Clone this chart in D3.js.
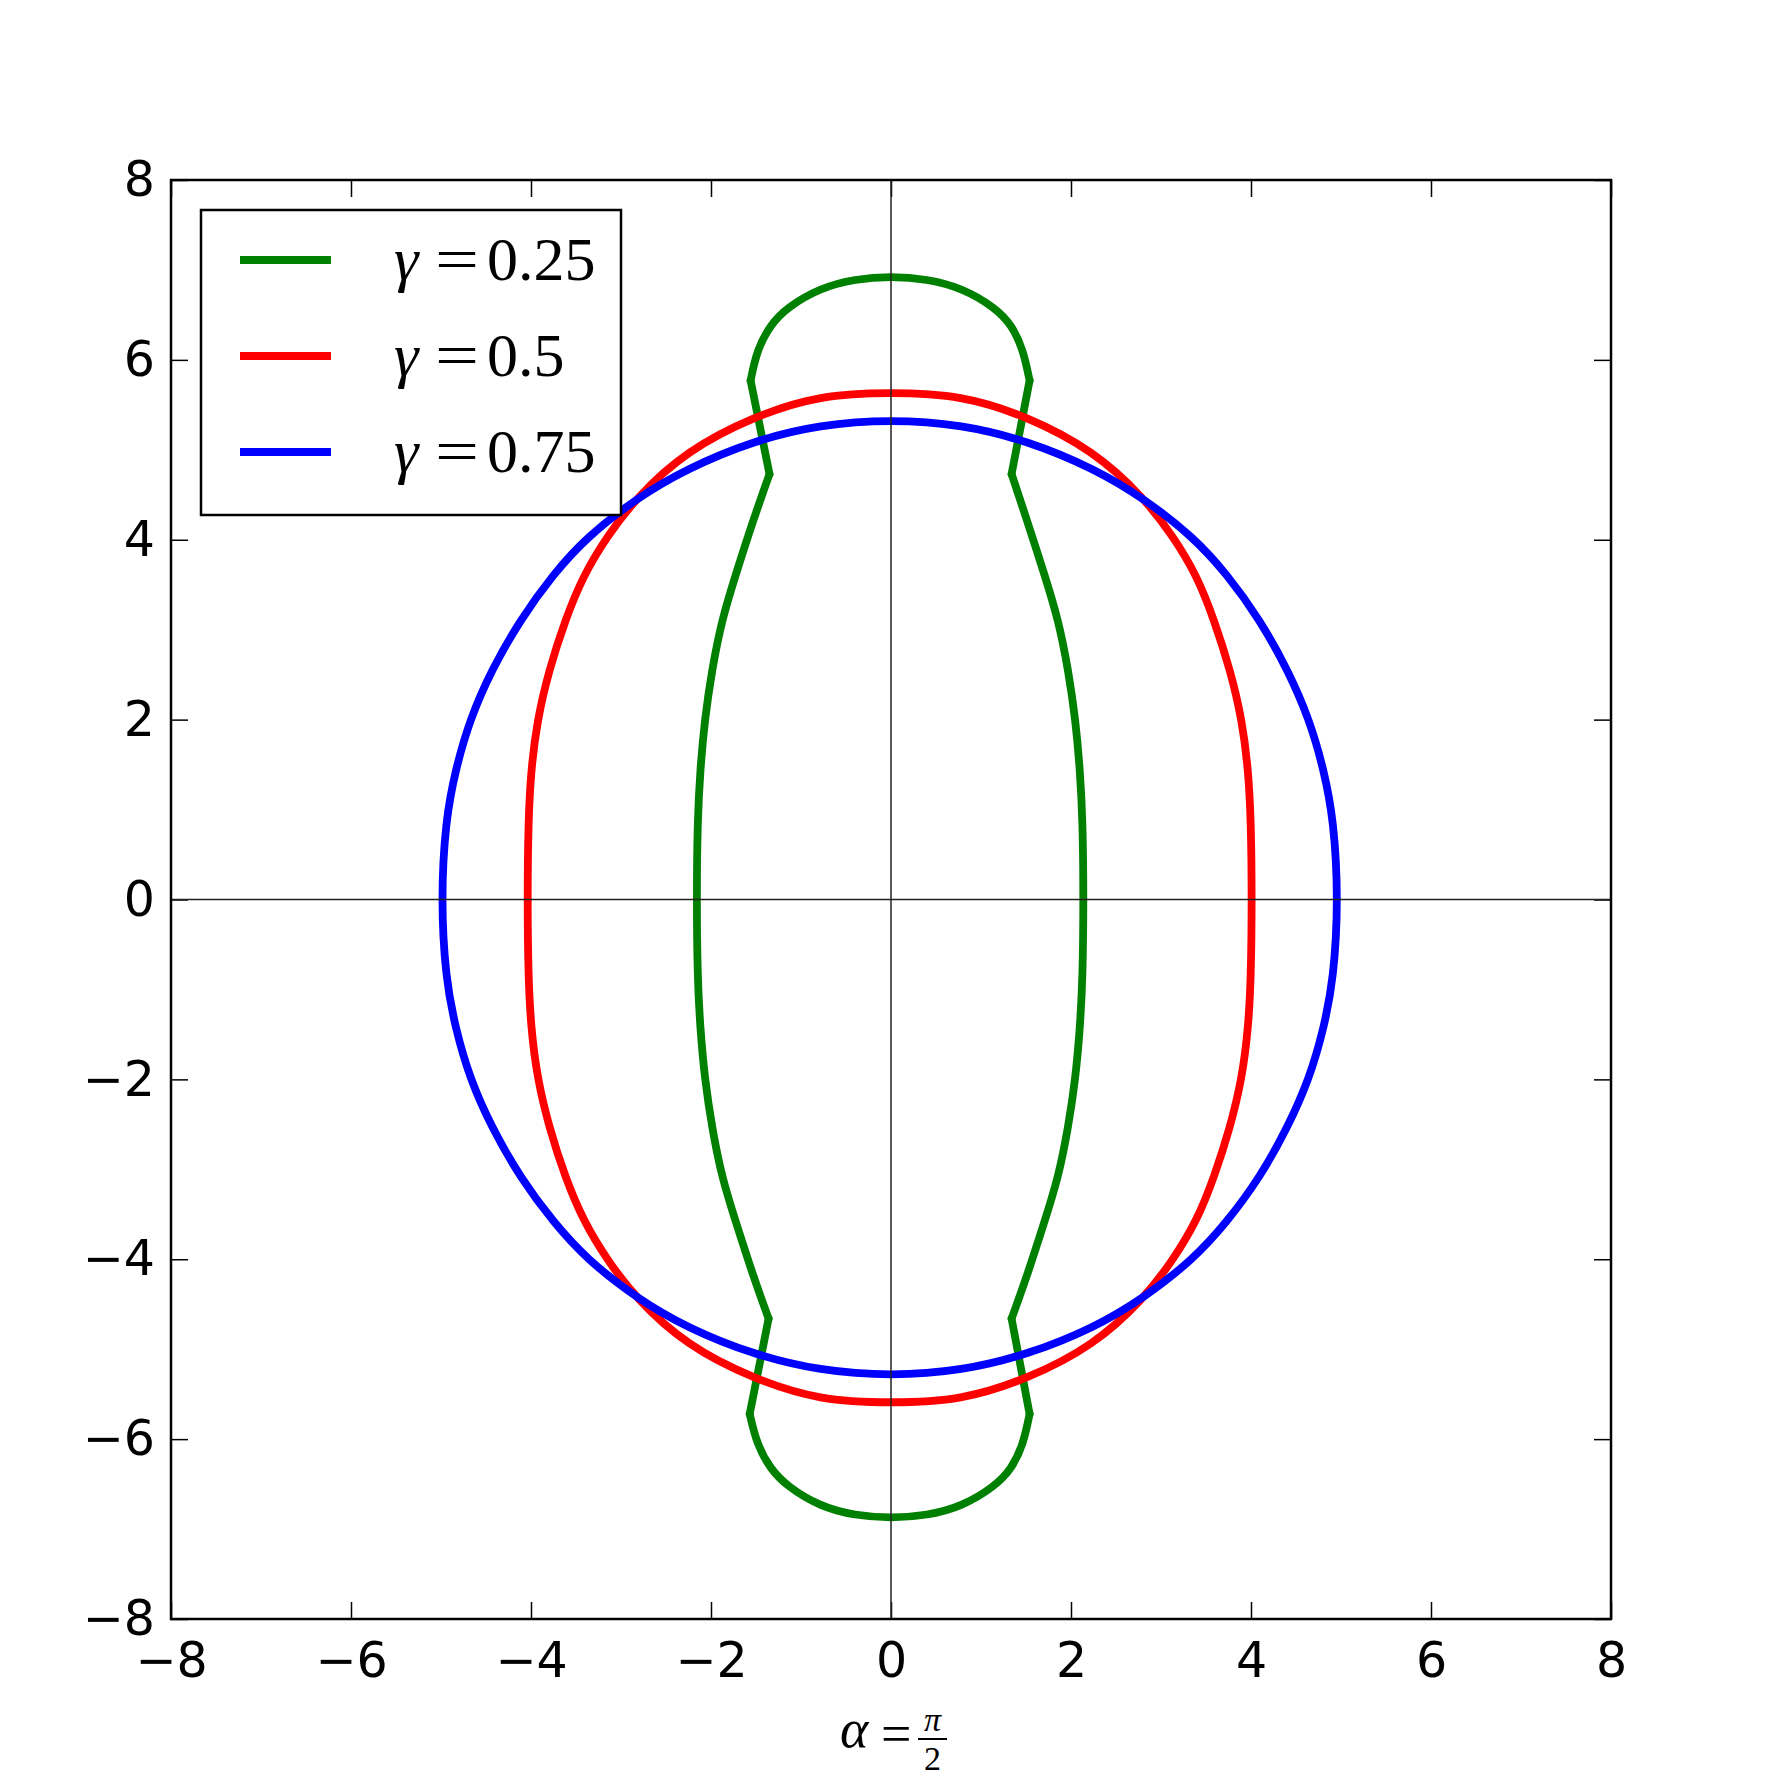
<!DOCTYPE html>
<html>
<head>
<meta charset="utf-8">
<script src="https://cdn.jsdelivr.net/npm/d3@7"></script>
<style>
  body { margin: 0; background: #fff; }
  .math { font-family: "Liberation Serif", "DejaVu Serif", serif; fill: #000; }
</style>
</head>
<body>
<div class="chart"></div>
<script>
// tick values on both axes
const ticks = [-8, -6, -4, -2, 0, 2, 4, 6, 8];

// legend entries
const gammaLabels = ['0.25', '0.5', '0.75'];
const colors = ['#008000', '#ff0000', '#0000ff'];

// gamma = 0.25 is drawn in pieces: smooth caps and sides, straight necks between the kinks
const g025CapTop = [
  [-1.56, 5.77], [-1.49, 6.11], [-1.34, 6.39], [-1.16, 6.58], [-0.79, 6.80], [-0.40, 6.90],
  [0, 6.93], [0.40, 6.90], [0.79, 6.80], [1.16, 6.58], [1.34, 6.39], [1.47, 6.11], [1.54, 5.77]
];
const g025CapBottom = [
  [-1.57, -5.72], [-1.49, -6.06], [-1.34, -6.33], [-1.16, -6.52], [-0.79, -6.75], [-0.40, -6.85],
  [0, -6.88], [0.40, -6.85], [0.79, -6.75], [1.16, -6.52], [1.34, -6.33], [1.47, -6.06], [1.54, -5.72]
];
const g025SideLeft = [
  [-1.35, 4.73], [-1.52, 4.25], [-1.72, 3.63], [-1.88, 3.11], [-1.99, 2.55], [-2.07, 2.0],
  [-2.12, 1.44], [-2.15, 0.88], [-2.16, 0], [-2.15, -0.87], [-2.12, -1.43], [-2.07, -1.99],
  [-1.99, -2.53], [-1.88, -3.09], [-1.72, -3.60], [-1.52, -4.22], [-1.36, -4.66]
];
const g025SideRight = [
  [1.34, 4.73], [1.50, 4.25], [1.70, 3.63], [1.86, 3.11], [1.97, 2.55], [2.05, 2.0],
  [2.10, 1.44], [2.13, 0.88], [2.14, 0], [2.13, -0.87], [2.10, -1.43], [2.05, -1.99],
  [1.97, -2.53], [1.86, -3.09], [1.70, -3.60], [1.50, -4.22], [1.34, -4.66]
];
const g025Necks = [
  [[-1.56, 5.77], [-1.35, 4.73]],
  [[1.54, 5.77], [1.34, 4.73]],
  [[-1.57, -5.72], [-1.36, -4.66]],
  [[1.54, -5.72], [1.34, -4.66]]
];

// gamma = 0.5, closed, counter-clockwise from the right
const curve05 = [
  [4.01, 0], [4.00, 0.88], [3.97, 1.44], [3.90, 2.0], [3.77, 2.55], [3.59, 3.11],
  [3.40, 3.60], [3.14, 4.03], [2.81, 4.47], [2.25, 4.99], [1.52, 5.37], [0.78, 5.61],
  [0, 5.64], [-0.79, 5.61], [-1.53, 5.37], [-2.27, 4.99], [-2.83, 4.47], [-3.16, 4.03],
  [-3.42, 3.60], [-3.62, 3.11], [-3.80, 2.55], [-3.93, 2.0], [-4.00, 1.44], [-4.03, 0.88],
  [-4.04, 0], [-4.03, -0.87], [-4.00, -1.43], [-3.93, -1.99], [-3.80, -2.53], [-3.62, -3.09],
  [-3.42, -3.57], [-3.16, -4.00], [-2.83, -4.44], [-2.27, -4.96], [-1.53, -5.33],
  [-0.79, -5.57], [0, -5.60], [0.78, -5.57], [1.52, -5.33], [2.25, -4.96], [2.81, -4.44],
  [3.14, -4.00], [3.40, -3.57], [3.59, -3.09], [3.77, -2.53], [3.90, -1.99], [3.97, -1.43],
  [4.00, -0.87]
];

// gamma = 0.75, closed, counter-clockwise from the right
const curve075 = [
  [4.97, 0], [4.92, 0.88], [4.81, 1.44], [4.65, 2.0], [4.41, 2.55], [4.10, 3.11],
  [3.73, 3.62], [3.36, 4.03], [2.81, 4.46], [2.26, 4.79], [1.52, 5.10], [0.79, 5.28],
  [0, 5.34], [-0.79, 5.28], [-1.53, 5.10], [-2.27, 4.79], [-2.83, 4.46], [-3.38, 4.03],
  [-3.75, 3.62], [-4.12, 3.11], [-4.44, 2.55], [-4.68, 2.0], [-4.84, 1.44], [-4.95, 0.88],
  [-5.00, 0], [-4.95, -0.87], [-4.84, -1.43], [-4.68, -1.99], [-4.44, -2.53], [-4.12, -3.09],
  [-3.75, -3.59], [-3.38, -4.00], [-2.83, -4.43], [-2.27, -4.76], [-1.53, -5.06],
  [-0.79, -5.24], [0, -5.30], [0.79, -5.24], [1.52, -5.06], [2.26, -4.76], [2.81, -4.43],
  [3.36, -4.00], [3.73, -3.59], [4.10, -3.09], [4.41, -2.53], [4.65, -1.99], [4.81, -1.43],
  [4.92, -0.87]
];

const svgWidth = 1790, svgHeight = 1790;
const margin = {top: 180, left: 171};
const width = 1440, height = 1439;
const lineWidth = 7.8;

const svg = d3.select(".chart")
  .append("svg")
  .attr("width", svgWidth)
  .attr("height", svgHeight)
  .style("display", "block");

svg.append("rect").attr("width", svgWidth).attr("height", svgHeight).attr("fill", "#fff");

const chartGroup = svg.append("g")
  .attr("transform", `translate(${margin.left}, ${margin.top})`);

const x = d3.scaleLinear().domain([-8, 8]).range([0, width]);
const y = d3.scaleLinear().domain([-8, 8]).range([height, 0]);

// axes, ticks pointing inward on all four sides
const tickLen = 17;
const styleAxis = g => {
  g.select(".domain").remove();
  g.selectAll(".tick line").attr("stroke", "#000").attr("stroke-width", 1.5);
  g.selectAll(".tick text")
    .attr("font-family", "'DejaVu Sans', sans-serif")
    .attr("font-size", 49)
    .attr("fill", "#000");
};

chartGroup.append("g")
  .attr("transform", `translate(0, ${height})`)
  .call(d3.axisBottom(x).tickValues(ticks).tickSize(-tickLen).tickSizeOuter(0).tickPadding(23))
  .call(styleAxis);

chartGroup.append("g")
  .call(d3.axisLeft(y).tickValues(ticks).tickSize(-tickLen).tickSizeOuter(0).tickPadding(16))
  .call(styleAxis);

chartGroup.append("g")
  .call(d3.axisTop(x).tickValues(ticks).tickSize(-tickLen).tickSizeOuter(0).tickFormat(""))
  .call(styleAxis);

chartGroup.append("g")
  .attr("transform", `translate(${width}, 0)`)
  .call(d3.axisRight(y).tickValues(ticks).tickSize(-tickLen).tickSizeOuter(0).tickFormat(""))
  .call(styleAxis);

// line generators: B-splines smooth out reading noise, straight lines for the necks
const smooth = d3.line().x(d => x(d[0])).y(d => y(d[1])).curve(d3.curveBasis);
const closed = d3.line().x(d => x(d[0])).y(d => y(d[1])).curve(d3.curveBasisClosed);
const straight = d3.line().x(d => x(d[0])).y(d => y(d[1]));

const drawPath = (d, gen, color) => chartGroup.append("path")
  .attr("d", gen(d))
  .attr("fill", "none")
  .attr("stroke", color)
  .attr("stroke-width", lineWidth)
  .attr("stroke-linejoin", "round")
  .attr("stroke-linecap", "round");

// gamma = 0.25
[g025CapTop, g025CapBottom, g025SideLeft, g025SideRight].forEach(p => drawPath(p, smooth, colors[0]));
g025Necks.forEach(p => drawPath(p, straight, colors[0]));
// gamma = 0.5 and 0.75
drawPath(curve05, closed, colors[1]);
drawPath(curve075, closed, colors[2]);

// zero lines on top of the curves
chartGroup.append("line")
  .attr("x1", x(0)).attr("x2", x(0)).attr("y1", 0).attr("y2", height)
  .attr("stroke", "#222").attr("stroke-width", 1.5);
chartGroup.append("line")
  .attr("x1", 0).attr("x2", width).attr("y1", y(0)).attr("y2", y(0))
  .attr("stroke", "#222").attr("stroke-width", 1.5);

// frame
chartGroup.append("rect")
  .attr("width", width).attr("height", height)
  .attr("fill", "none").attr("stroke", "#000").attr("stroke-width", 2.5);

// legend
const legend = chartGroup.append("g").attr("transform", "translate(30, 30)");
legend.append("rect")
  .attr("width", 420).attr("height", 305)
  .attr("fill", "#fff").attr("stroke", "#000").attr("stroke-width", 2.5);

gammaLabels.forEach((lab, i) => {
  const ly = 50 + i * 96;
  legend.append("line")
    .attr("x1", 39).attr("x2", 130).attr("y1", ly).attr("y2", ly)
    .attr("stroke", colors[i]).attr("stroke-width", lineWidth);
  const t = legend.append("text").classed("math", true)
    .attr("y", ly + 20).attr("font-size", 62);
  t.append("tspan").attr("x", 193).attr("font-style", "italic").text("γ");
  t.append("tspan").attr("x", 234).attr("textLength", 44).attr("lengthAdjust", "spacingAndGlyphs").text("=");
  t.append("tspan").attr("x", 286).text(lab);
});

// x label: alpha = pi / 2
const xl = svg.append("g");
xl.append("text").classed("math", true)
  .attr("x", 840).attr("y", 1747).attr("font-size", 54).attr("font-style", "italic").text("α");
xl.append("text").classed("math", true)
  .attr("x", 881).attr("y", 1752).attr("font-size", 54).text("=");
xl.append("line")
  .attr("x1", 918).attr("x2", 947).attr("y1", 1739).attr("y2", 1739)
  .attr("stroke", "#000").attr("stroke-width", 2);
xl.append("text").classed("math", true)
  .attr("x", 932.5).attr("y", 1731).attr("font-size", 34).attr("font-style", "italic")
  .attr("text-anchor", "middle").text("π");
xl.append("text").classed("math", true)
  .attr("x", 932.5).attr("y", 1770).attr("font-size", 34)
  .attr("text-anchor", "middle").text("2");
</script>
</body>
</html>
